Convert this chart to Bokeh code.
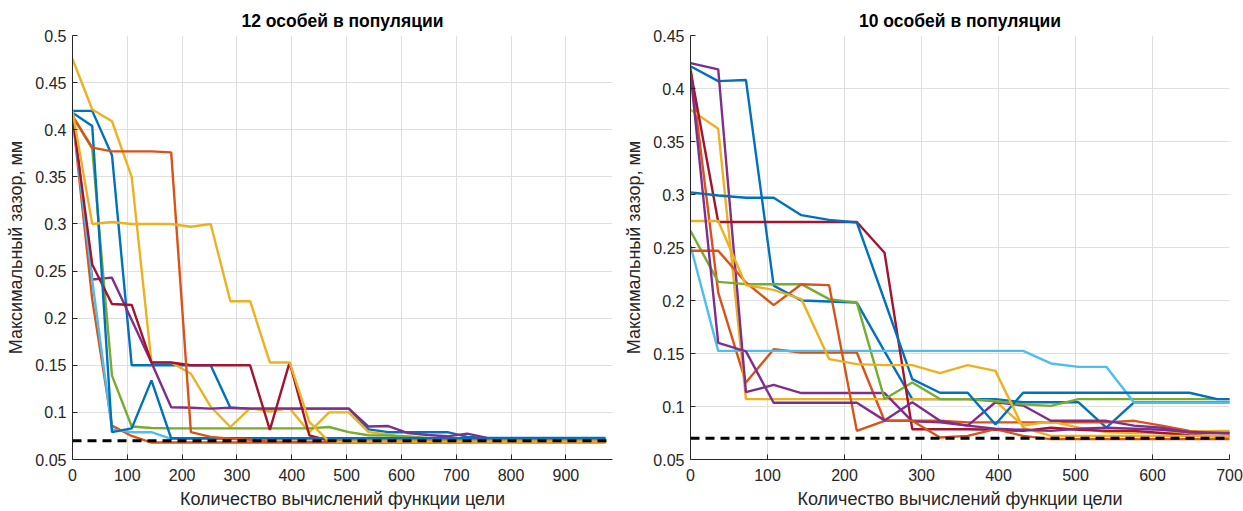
from bokeh.plotting import figure
from bokeh.layouts import row
from bokeh.models import FixedTicker, Span, Range1d
from bokeh.embed import file_html
from bokeh.resources import INLINE

# ---------------- data ----------------
title_left = "12 особей в популяции"
title_right = "10 особей в популяции"
x_label = "Количество вычислений функции цели"
y_label = "Максимальный зазор, мм"
target_gap = 0.07

left_x = [0, 36, 72, 108, 144, 180, 216, 252, 288, 324, 360, 396, 432, 468,
          504, 540, 576, 612, 648, 684, 720, 756, 792, 828, 864, 900, 936, 972]

l_blue_a = [0.420, 0.420, 0.373, 0.150, 0.150, 0.150, 0.150, 0.150, 0.105, 0.104, 0.104, 0.104, 0.104, 0.104,
            0.104, 0.082, 0.079, 0.079, 0.079, 0.079, 0.074, 0.073, 0.073, 0.073, 0.073, 0.073, 0.073, 0.073]
l_orange_a = [0.415, 0.220, 0.086, 0.075, 0.068, 0.068, 0.068, 0.068, 0.068, 0.068, 0.068, 0.068, 0.068, 0.068,
              0.068, 0.068, 0.068, 0.068, 0.068, 0.068, 0.068, 0.068, 0.068, 0.068, 0.068, 0.068, 0.068, 0.068]
l_yellow_a = [0.475, 0.4215, 0.409, 0.350, 0.153, 0.153, 0.141, 0.106, 0.0845, 0.1045, 0.101, 0.1045, 0.079, 0.100,
              0.100, 0.079, 0.0765, 0.072, 0.070, 0.069, 0.068, 0.068, 0.068, 0.068, 0.068, 0.068, 0.068, 0.068]
l_purple = [0.420, 0.241, 0.243, 0.198, 0.153, 0.1055, 0.105, 0.104, 0.105, 0.104, 0.104, 0.104, 0.104, 0.104,
            0.104, 0.085, 0.0855, 0.078, 0.076, 0.0746, 0.0775, 0.073, 0.072, 0.072, 0.072, 0.072, 0.072, 0.072]
l_green = [0.414, 0.380, 0.139, 0.085, 0.0835, 0.083, 0.083, 0.083, 0.083, 0.083, 0.083, 0.083, 0.083, 0.0845,
           0.079, 0.0757, 0.0755, 0.0745, 0.073, 0.072, 0.072, 0.072, 0.072, 0.072, 0.072, 0.072, 0.072, 0.072]
l_lightblue = [0.415, 0.240, 0.082, 0.079, 0.079, 0.072, 0.072, 0.072, 0.072, 0.072, 0.072, 0.072, 0.072, 0.072,
               0.072, 0.072, 0.072, 0.072, 0.072, 0.072, 0.072, 0.072, 0.072, 0.072, 0.072, 0.072, 0.072, 0.072]
l_darkred = [0.415, 0.257, 0.215, 0.214, 0.153, 0.153, 0.150, 0.150, 0.150, 0.150, 0.0815, 0.153, 0.0757, 0.070,
             0.069, 0.069, 0.069, 0.069, 0.069, 0.069, 0.069, 0.069, 0.069, 0.069, 0.069, 0.069, 0.069, 0.069]
l_blue_b = [0.418, 0.404, 0.079, 0.083, 0.134, 0.0725, 0.0725, 0.0725, 0.0725, 0.0725, 0.0725, 0.0725, 0.0725, 0.0725,
            0.0725, 0.0725, 0.0725, 0.0725, 0.0725, 0.0725, 0.0725, 0.0725, 0.0725, 0.0725, 0.0725, 0.0725, 0.0725, 0.0725]
l_orange_b = [0.415, 0.381, 0.377, 0.377, 0.377, 0.376, 0.079, 0.074, 0.072, 0.071, 0.069, 0.069, 0.069, 0.069,
              0.069, 0.069, 0.069, 0.069, 0.069, 0.069, 0.069, 0.069, 0.069, 0.069, 0.069, 0.069, 0.069, 0.069]
l_yellow_b = [0.420, 0.300, 0.302, 0.300, 0.300, 0.300, 0.297, 0.300, 0.218, 0.218, 0.153, 0.153, 0.090, 0.069,
              0.069, 0.069, 0.069, 0.069, 0.069, 0.069, 0.069, 0.069, 0.069, 0.069, 0.069, 0.069, 0.069, 0.069]

right_x = [0, 36, 72, 108, 144, 180, 216, 252, 288, 324, 360, 396, 432, 468, 504, 540, 576, 612, 648, 684, 720]

r_blue_a = [0.421, 0.407, 0.408, 0.214, 0.200, 0.199, 0.198, 0.152, 0.107, 0.107, 0.107,
            0.107, 0.104, 0.104, 0.104, 0.080, 0.104, 0.104, 0.104, 0.104, 0.104]
r_orange_a = [0.420, 0.2075, 0.1226, 0.154, 0.151, 0.151, 0.151, 0.0865, 0.0865, 0.0865, 0.085,
              0.085, 0.085, 0.085, 0.085, 0.085, 0.0865, 0.082, 0.077, 0.0755, 0.075]
r_yellow_a = [0.380, 0.362, 0.107, 0.107, 0.107, 0.107, 0.107, 0.107, 0.107, 0.107, 0.107,
              0.105, 0.082, 0.086, 0.080, 0.076, 0.075, 0.075, 0.076, 0.077, 0.077]
r_purple_a = [0.424, 0.418, 0.1136, 0.1204, 0.1127, 0.1127, 0.1127, 0.1127, 0.086, 0.085, 0.082,
              0.104, 0.101, 0.0865, 0.0865, 0.0865, 0.082, 0.080, 0.0755, 0.075, 0.075]
r_green = [0.2657, 0.2176, 0.2154, 0.2154, 0.2154, 0.2013, 0.198, 0.107, 0.1226, 0.107, 0.107,
           0.105, 0.102, 0.1006, 0.107, 0.107, 0.107, 0.107, 0.107, 0.107, 0.107]
r_lightblue = [0.2516, 0.1525, 0.1525, 0.1525, 0.1525, 0.1525, 0.1525, 0.1525, 0.1525, 0.1525, 0.1525,
               0.1525, 0.1525, 0.1406, 0.1374, 0.1374, 0.1038, 0.1038, 0.1038, 0.1038, 0.1038]
r_darkred = [0.417, 0.274, 0.274, 0.274, 0.274, 0.274, 0.274, 0.245, 0.0786, 0.0786, 0.0786,
             0.078, 0.077, 0.080, 0.078, 0.077, 0.077, 0.075, 0.073, 0.072, 0.072]
r_blue_b = [0.302, 0.299, 0.297, 0.297, 0.2805, 0.276, 0.2736, 0.200, 0.1258, 0.113, 0.113,
            0.083, 0.113, 0.113, 0.113, 0.113, 0.113, 0.113, 0.113, 0.107, 0.107]
r_orange_b = [0.2469, 0.2469, 0.217, 0.1956, 0.2154, 0.2145, 0.077, 0.0865, 0.0865, 0.0708, 0.0723,
              0.0786, 0.0723, 0.0692, 0.0692, 0.0692, 0.0692, 0.0692, 0.0692, 0.0692, 0.0692]
r_yellow_b = [0.275, 0.275, 0.2145, 0.210, 0.2013, 0.1447, 0.140, 0.139, 0.139, 0.1314, 0.139,
              0.1336, 0.080, 0.0723, 0.0723, 0.0723, 0.0723, 0.0723, 0.0723, 0.0723, 0.0723]
r_purple_b = [0.415, 0.160, 0.152, 0.1035, 0.1035, 0.1035, 0.1035, 0.0869, 0.104, 0.0865, 0.082,
              0.079, 0.078, 0.077, 0.079, 0.080, 0.079, 0.078, 0.076, 0.075, 0.074]

left_xticks = [0, 100, 200, 300, 400, 500, 600, 700, 800, 900]
left_xlabels = ["0", "100", "200", "300", "400", "500", "600", "700", "800", "900"]
left_yticks = [0.05, 0.1, 0.15, 0.2, 0.25, 0.3, 0.35, 0.4, 0.45, 0.5]
left_ylabels = ["0.05", "0.1", "0.15", "0.2", "0.25", "0.3", "0.35", "0.4", "0.45", "0.5"]
right_xticks = [0, 100, 200, 300, 400, 500, 600, 700]
right_xlabels = ["0", "100", "200", "300", "400", "500", "600", "700"]
right_yticks = [0.05, 0.1, 0.15, 0.2, 0.25, 0.3, 0.35, 0.4, 0.45]
right_ylabels = ["0.05", "0.1", "0.15", "0.2", "0.25", "0.3", "0.35", "0.4", "0.45"]

C_BLUE = "#0072BD"
C_ORANGE = "#D95319"
C_YELLOW = "#EDB120"
C_PURPLE = "#7E2F8E"
C_GREEN = "#77AC30"
C_LBLUE = "#4DBEEE"
C_DRED = "#A2142F"

left_series = [(l_blue_a, C_BLUE), (l_orange_a, C_ORANGE), (l_yellow_a, C_YELLOW), (l_purple, C_PURPLE),
               (l_green, C_GREEN), (l_lightblue, C_LBLUE), (l_darkred, C_DRED), (l_blue_b, C_BLUE),
               (l_orange_b, C_ORANGE), (l_yellow_b, C_YELLOW)]
right_series = [(r_blue_a, C_BLUE), (r_orange_a, C_ORANGE), (r_yellow_a, C_YELLOW), (r_purple_a, C_PURPLE),
                (r_green, C_GREEN), (r_lightblue, C_LBLUE), (r_darkred, C_DRED), (r_blue_b, C_BLUE),
                (r_orange_b, C_ORANGE), (r_yellow_b, C_YELLOW), (r_purple_b, C_PURPLE)]

FONT = "Liberation Sans"
TXT = "#262626"


def make_fig(title, width, x_end, y_end, xticks, xlabels, yticks, ylabels, xs, series, mb_left, mb_right):
    p = figure(width=width, height=511, x_range=Range1d(0, x_end), y_range=Range1d(0.05, y_end),
               output_backend="svg", toolbar_location=None,
               min_border_left=mb_left, min_border_right=mb_right,
               min_border_top=35, min_border_bottom=50)
    p.title.text = title
    p.title.align = "center"
    p.title.text_font = FONT
    p.title.text_font_size = "17.5px"
    p.title.text_font_style = "bold"
    p.title.text_color = "#000000"
    p.title.standoff = 9
    p.outline_line_color = None
    p.background_fill_color = "white"
    p.border_fill_color = "white"

    for ax, ticks, labels in ((p.xaxis[0], xticks, xlabels), (p.yaxis[0], yticks, ylabels)):
        ax.ticker = FixedTicker(ticks=ticks)
        ax.major_label_overrides = dict(zip(ticks, labels))
        ax.major_tick_in = 5
        ax.major_tick_out = 0
        ax.minor_tick_line_color = None
        ax.axis_line_color = TXT
        ax.major_tick_line_color = TXT
        ax.major_label_text_font = FONT
        ax.major_label_text_font_size = "16px"
        ax.major_label_text_color = TXT
        ax.axis_label_text_font = FONT
        ax.axis_label_text_font_size = "18px"
        ax.axis_label_text_font_style = "normal"
        ax.axis_label_text_color = TXT
        ax.axis_label_standoff = 6
    p.xaxis.major_label_standoff = 9
    p.xaxis.axis_label_standoff = 5
    p.yaxis.major_label_standoff = 6
    p.xaxis.axis_label = x_label
    p.yaxis.axis_label = y_label

    p.xgrid.ticker = FixedTicker(ticks=xticks)
    p.ygrid.ticker = FixedTicker(ticks=yticks)
    for g in (p.xgrid[0], p.ygrid[0]):
        g.grid_line_color = "#dfdfdf"
        g.grid_line_width = 1

    for ys, color in series:
        p.line(xs, ys, line_color=color, line_width=2.4)

    p.add_layout(Span(location=target_gap, dimension="width", line_color="black",
                      line_width=3, line_dash="9 6"))
    return p


p_left = make_fig(title_left, 621, 985, 0.5, left_xticks, left_xlabels, left_yticks, left_ylabels,
                  left_x, left_series, 72, 9)
p_right = make_fig(title_right, 622, 700, 0.45, right_xticks, right_xlabels, right_yticks, right_ylabels,
                   right_x, right_series, 69, 14)

layout = row(p_left, p_right)
open("out.html", "w").write(file_html(layout, INLINE))
